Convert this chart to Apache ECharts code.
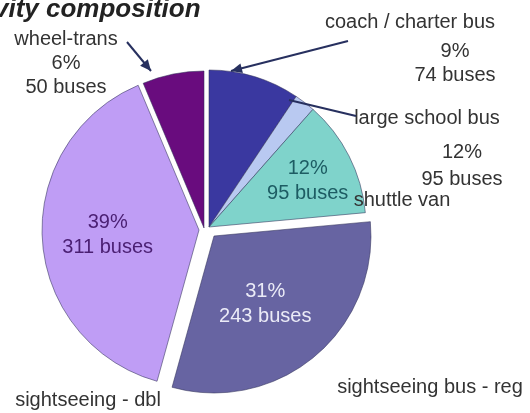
<!DOCTYPE html>
<html>
<head>
<meta charset="utf-8">
<script src="https://cdn.jsdelivr.net/npm/echarts@6/dist/echarts.min.js"></script>
<style>
  html, body { margin: 0; padding: 0; background: #fff; }
  #chart { width: 530px; height: 413px; }
</style>
</head>
<body>
<div id="chart"></div>
<script>
  // data
  var categories = ['coach / charter bus', 'large school bus', 'shuttle van', 'sightseeing bus - reg', 'sightseeing - dbl', 'wheel-trans']
  var buses = [74, 17, 95, 243, 311, 50]
  var colors = ['#3a38a0', '#b9c9f1', '#7fd3cb', '#6764a2', '#bf9df5', '#690c7e']
  var innerColors = [null, null, '#1d5c63', '#ebebf7', '#4a1f72', null]

  // outer annotation texts
  var titleText = 'vity composition'
  var outerTexts = [
    'wheel-trans\n6%\n50 buses',
    'coach / charter bus',
    '9%\n74 buses',
    'large school bus',
    '12%\n95 buses',
    'shuttle van',
    'sightseeing bus - reg',
    'sightseeing - dbl'
  ]

  var R = 157
  var font = '"Liberation Sans", Arial, sans-serif'

  // each exploded slice gets its own pie with its own centre
  var groups = [
    { show: [0, 1, 2], center: [209, 227] },
    { show: [5], center: [204, 228] },
    { show: [4], center: [199, 230] },
    { show: [3], center: [214, 236] }
  ]
  // nudges for the inside labels
  var labelShift = { 2: [26, -9], 3: [-1, 5], 4: [-10, 0] }

  function makePie(g) {
    return {
      type: 'pie',
      radius: R,
      center: g.center,
      startAngle: 90,
      clockwise: true,
      percentPrecision: 0,
      silent: true,
      animation: false,
      avoidLabelOverlap: false,
      labelLine: { show: false },
      emphasis: { disabled: true },
      data: categories.map(function (name, i) {
        var on = g.show.indexOf(i) >= 0
        return {
          name: name,
          value: buses[i],
          itemStyle: on
            ? { color: colors[i], borderColor: 'rgba(50,50,90,0.55)', borderWidth: 1 }
            : { color: 'rgba(0,0,0,0)', borderWidth: 0 },
          label: on && innerColors[i]
            ? {
              show: true, position: 'inside', formatter: '{d}%\n{c} buses',
              color: innerColors[i], fontSize: 20, lineHeight: 25, fontFamily: font
            }
            : { show: false }
        }
      }),
      labelLayout: function (p) {
        var s = labelShift[p.dataIndex]
        return s ? { dx: s[0], dy: s[1] } : {}
      }
    }
  }

  function txt(text, x, y, extra) {
    var style = {
      text: text, x: x, y: y, fill: '#333',
      fontSize: 20, fontFamily: font, lineHeight: 24,
      align: 'center', verticalAlign: 'middle',
      textAlign: 'center', textVerticalAlign: 'middle'
    }
    for (var k in extra) style[k] = extra[k]
    return { type: 'text', style: style, z: 10 }
  }

  function arrow(x1, y1, x2, y2, head) {
    var out = [{
      type: 'line', z: 10,
      shape: { x1: x1, y1: y1, x2: x2, y2: y2 },
      style: { stroke: '#27305f', lineWidth: 2 }
    }]
    if (head) {
      var a = Math.atan2(y2 - y1, x2 - x1), L = 11, W = 5
      var bx = x2 - L * Math.cos(a), by = y2 - L * Math.sin(a)
      out.push({
        type: 'polygon', z: 10,
        shape: { points: [[x2, y2], [bx + W * Math.sin(a), by - W * Math.cos(a)], [bx - W * Math.sin(a), by + W * Math.cos(a)]] },
        style: { fill: '#27305f' }
      })
    }
    return out
  }

  var graphics = [
    txt(titleText, -6, 10, { align: 'left', textAlign: 'left', fontSize: 26, fontWeight: 'bold', fontStyle: 'italic', fill: '#222' }),
    txt(outerTexts[0], 66, 63),
    txt(outerTexts[1], 410, 22),
    txt(outerTexts[2], 455, 63),
    txt(outerTexts[3], 427, 118),
    txt(outerTexts[4], 462, 166, { lineHeight: 27 }),
    txt(outerTexts[5], 402, 200),
    txt(outerTexts[6], 430, 387),
    txt(outerTexts[7], 88, 400)
  ].concat(
    arrow(127, 42, 151, 71, true),
    arrow(348, 41, 231, 71, true),
    arrow(356, 116, 289, 100, false)
  )

  var myChart = echarts.init(document.getElementById('chart'))
  myChart.setOption({
    backgroundColor: '#fff',
    animation: false,
    series: groups.map(makePie),
    graphic: graphics
  })
</script>
</body>
</html>
